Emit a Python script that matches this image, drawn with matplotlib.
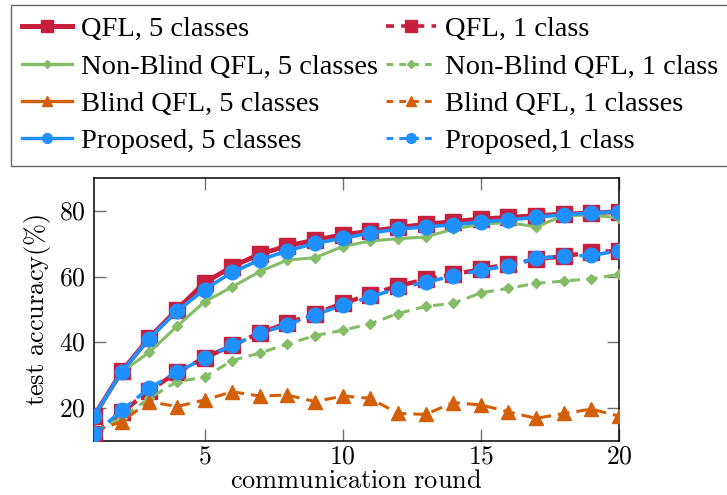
import numpy as np
import matplotlib
matplotlib.use("Agg")
import matplotlib.pyplot as plt
from matplotlib.lines import Line2D

plt.rcParams['font.family'] = ['Liberation Serif', 'DejaVu Serif']
plt.rcParams['mathtext.fontset'] = 'cm'

rounds = np.arange(1, 21)

# 5 classes
qfl_5 = [17.6, 31.2, 41.4, 50.0, 58.2, 63.1, 66.9, 69.4, 71.2, 72.8,
         73.9, 75.0, 76.0, 76.8, 77.6, 78.1, 78.6, 79.1, 79.4, 79.8]
nonblind_5 = [17.5, 31.0, 37.0, 44.9, 52.4, 56.9, 61.6, 65.1, 65.8, 69.2,
              70.9, 71.6, 72.1, 74.5, 76.0, 76.5, 75.2, 78.6, 78.8, 77.9]
proposed_5 = [17.6, 31.0, 41.2, 49.5, 56.1, 61.4, 65.1, 67.9, 70.2, 71.7,
              73.3, 74.5, 75.2, 75.8, 76.7, 77.3, 78.1, 78.9, 79.4, 79.8]
blind_5 = []  # not visible in the figure

# 1 class
qfl_1 = [12.0, 18.7, 25.3, 30.9, 35.3, 39.1, 42.9, 45.9, 48.8, 51.9,
         54.6, 57.2, 59.2, 60.7, 62.3, 63.8, 65.3, 66.3, 67.4, 67.9]
nonblind_1 = [13.0, 17.0, 23.0, 28.1, 29.4, 34.5, 36.8, 39.5, 42.1, 43.7,
              45.7, 48.8, 51.0, 51.9, 55.1, 56.5, 58.0, 58.7, 59.4, 60.7]
blind_1 = [13.0, 15.9, 22.0, 20.5, 22.5, 25.0, 23.7, 24.0, 22.0, 23.7,
           23.0, 18.4, 18.1, 21.7, 21.0, 18.9, 16.9, 18.4, 19.7, 17.6]
proposed_1 = [12.0, 19.3, 26.1, 30.9, 35.3, 39.1, 42.8, 45.4, 48.5, 51.3,
              53.9, 56.4, 58.4, 60.2, 62.0, 63.3, 65.6, 66.3, 66.5, 67.9]

red = '#c8203c'
green = '#85bc66'
orange = '#d35f08'
blue = '#1e90ff'

fig = plt.figure(figsize=(7.27, 4.95), dpi=100)
ax = fig.add_axes([0.1293, 0.109, 0.7221, 0.531])

ax.plot(rounds, qfl_1, color=red, lw=3.2, ls='--', dashes=(3.0, 1.6), marker='s', ms=12, zorder=3)
ax.plot(rounds, nonblind_1, color=green, lw=2.2, ls='--', dashes=(3.5, 2.2), marker='D', ms=5.5, zorder=3)
ax.plot(rounds, blind_1, color=orange, lw=2.2, ls='--', dashes=(3.8, 2.3), marker='^', ms=10, zorder=3)
ax.plot(rounds, proposed_1, color=blue, lw=2.6, ls='--', dashes=(3.2, 2.0), marker='o', ms=10.5, zorder=4)

ax.plot(rounds, qfl_5, color=red, lw=3.4, marker='s', ms=12, zorder=5)
ax.plot(rounds, nonblind_5, color=green, lw=2.2, marker='D', ms=5.5, zorder=5)
ax.plot(rounds, proposed_5, color=blue, lw=2.6, marker='o', ms=10.5, zorder=6)

ax.set_xlim(1, 20)
ax.set_ylim(10, 90)
ax.set_xticks([5, 10, 15, 20])
ax.set_xticklabels(['$5$', '$10$', '$15$', '$20$'])
ax.set_yticks([20, 40, 60, 80])
ax.set_yticklabels(['$20$', '$40$', '$60$', '$80$'])
ax.tick_params(direction='in', length=8.5, width=1, color='#707070',
               top=True, right=True, labelsize=18.5, pad=6)
ax.tick_params(axis='x', pad=4)
for s in ax.spines.values():
    s.set_linewidth(1.1)
ax.set_xlabel(r'$\mathrm{communication\ round}$', fontsize=19, labelpad=1)
ax.set_ylabel(r'$\mathrm{test\ accuracy(\%)}$', fontsize=19, labelpad=4)

dl = (2.2, 2.0)
handles = [
    Line2D([], [], color=red, lw=3.6, marker='s', ms=9),
    Line2D([], [], color=green, lw=2.4, marker='D', ms=4),
    Line2D([], [], color=orange, lw=2.4, marker='^', ms=7),
    Line2D([], [], color=blue, lw=2.4, marker='o', ms=7),
    Line2D([], [], color=red, lw=2.6, ls='--', dashes=dl, marker='s', ms=8),
    Line2D([], [], color=green, lw=2.2, ls='--', dashes=dl, marker='D', ms=4),
    Line2D([], [], color=orange, lw=2.2, ls='--', dashes=dl, marker='^', ms=7),
    Line2D([], [], color=blue, lw=2.2, ls='--', dashes=dl, marker='o', ms=7),
]
labels = ['QFL, 5 classes', 'Non-Blind QFL, 5 classes', 'Blind QFL, 5 classes',
          'Proposed, 5 classes', 'QFL, 1 class', 'Non-Blind QFL, 1 class',
          'Blind QFL, 1 classes', 'Proposed,1 class']
leg = fig.legend(handles, labels, ncol=2, loc='upper left',
                 bbox_to_anchor=(0.0151, 0.99), fontsize=20.5,
                 frameon=True, fancybox=False, edgecolor='#404040',
                 handlelength=1.75, handletextpad=0.3, columnspacing=0.3,
                 labelspacing=0.4, borderpad=0.4, borderaxespad=0)
leg.get_frame().set_linewidth(1.0)

fig.savefig('out.png', dpi=100)
